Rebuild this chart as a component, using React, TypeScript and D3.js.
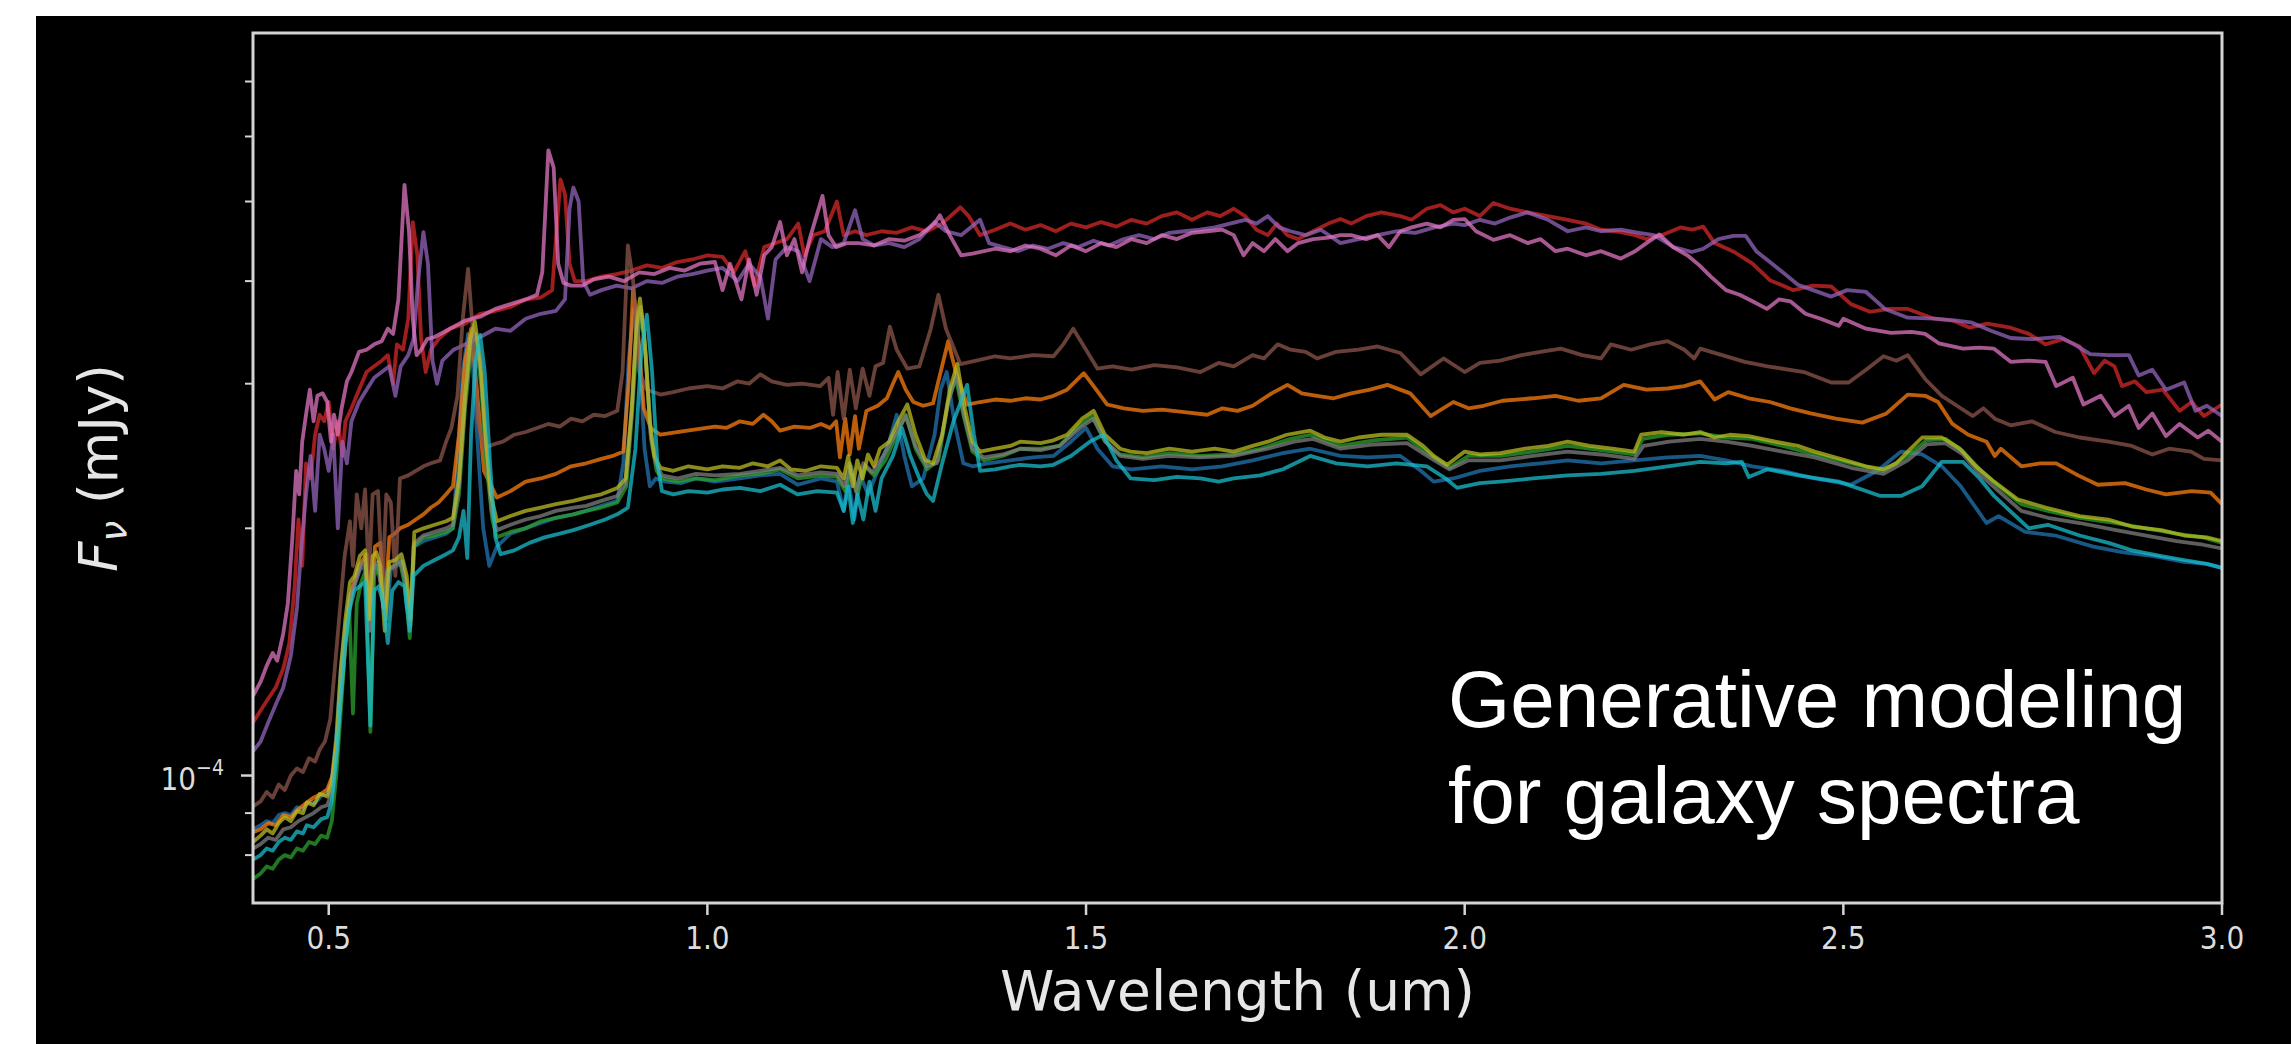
import React from 'react';
import * as d3 from 'd3';

// wavelength (um), flux in units of 1e-4 mJy
const blueSpec = [
  [0.400, 0.86], [0.410, 0.87], [0.418, 0.88], [0.426, 0.875], [0.434, 0.895], [0.442, 0.9], [0.450, 0.895], [0.458, 0.915], [0.466, 0.91], [0.474, 0.93], [0.482, 0.925], [0.490, 0.945], [0.498, 0.95], [0.504, 0.99], [0.510, 1.12], [0.516, 1.35], [0.522, 1.52], [0.528, 1.65], [0.534, 1.7], [0.541, 1.78], [0.548, 1.8], [0.553, 1.5], [0.558, 1.78], [0.564, 1.8], [0.570, 1.7], [0.576, 1.55], [0.582, 1.78], [0.590, 1.8], [0.598, 1.82], [0.603, 1.6], [0.608, 1.58], [0.613, 1.9], [0.625, 1.93], [0.640, 1.95], [0.655, 1.97], [0.664, 2.0], [0.670, 2.4], [0.677, 3.1], [0.684, 3.45], [0.690, 3.2], [0.697, 2.5], [0.704, 2.0], [0.712, 1.8], [0.722, 1.9], [0.740, 1.97], [0.760, 2.0], [0.780, 2.03], [0.800, 2.06], [0.823, 2.08], [0.840, 2.1], [0.860, 2.13], [0.881, 2.16], [0.889, 2.4], [0.896, 3.2], [0.903, 3.7], [0.910, 3.3], [0.917, 2.5], [0.924, 2.25], [0.932, 2.3], [0.945, 2.28], [0.965, 2.27], [0.985, 2.3], [1.010, 2.28], [1.043, 2.3], [1.070, 2.32], [1.096, 2.33], [1.119, 2.26], [1.150, 2.3], [1.171, 2.28], [1.180, 2.1], [1.186, 2.3], [1.194, 2.05], [1.202, 2.32], [1.212, 2.2], [1.225, 2.35], [1.240, 2.55], [1.250, 2.75], [1.260, 2.45], [1.270, 2.25], [1.285, 2.3], [1.300, 2.6], [1.308, 2.95], [1.316, 3.10], [1.326, 2.7], [1.338, 2.4], [1.350, 2.38], [1.370, 2.4], [1.400, 2.42], [1.430, 2.44], [1.457, 2.45], [1.480, 2.55], [1.500, 2.65], [1.515, 2.5], [1.535, 2.38], [1.560, 2.36], [1.600, 2.38], [1.640, 2.36], [1.680, 2.38], [1.720, 2.42], [1.760, 2.47], [1.796, 2.5], [1.836, 2.45], [1.872, 2.44], [1.915, 2.45], [1.942, 2.35], [1.959, 2.28], [1.985, 2.3], [2.020, 2.35], [2.060, 2.38], [2.100, 2.4], [2.136, 2.42], [2.180, 2.4], [2.224, 2.42], [2.268, 2.44], [2.311, 2.45], [2.345, 2.42], [2.380, 2.38], [2.420, 2.35], [2.462, 2.3], [2.510, 2.26], [2.545, 2.35], [2.576, 2.48], [2.604, 2.46], [2.630, 2.38], [2.655, 2.25], [2.689, 2.03], [2.705, 2.07], [2.740, 1.98], [2.780, 1.96], [2.830, 1.9], [2.870, 1.87], [2.910, 1.85], [2.950, 1.82], [2.980, 1.81], [3.000, 1.79],
];

const orangeSpec = [
  [0.400, 0.853], [0.410, 0.86], [0.420, 0.875], [0.430, 0.87], [0.440, 0.895], [0.450, 0.89], [0.460, 0.91], [0.471, 0.927], [0.480, 0.94], [0.490, 0.95], [0.498, 0.962], [0.505, 1.0], [0.511, 1.106], [0.518, 1.3], [0.524, 1.52], [0.532, 1.7], [0.540, 1.8], [0.550, 1.86], [0.556, 1.55], [0.561, 1.9], [0.568, 1.92], [0.574, 1.6], [0.580, 1.95], [0.587, 1.97], [0.594, 2.0], [0.605, 2.02], [0.615, 2.05], [0.625, 2.08], [0.635, 2.12], [0.645, 2.15], [0.655, 2.2], [0.664, 2.25], [0.672, 2.6], [0.680, 3.2], [0.688, 3.5], [0.695, 3.0], [0.705, 2.35], [0.722, 2.18], [0.740, 2.22], [0.760, 2.28], [0.780, 2.3], [0.800, 2.33], [0.820, 2.38], [0.840, 2.4], [0.860, 2.43], [0.875, 2.45], [0.889, 2.48], [0.896, 3.0], [0.902, 3.92], [0.908, 3.5], [0.916, 2.8], [0.925, 2.65], [0.938, 2.60], [0.960, 2.62], [0.985, 2.64], [1.010, 2.66], [1.025, 2.65], [1.043, 2.7], [1.060, 2.68], [1.074, 2.75], [1.085, 2.7], [1.096, 2.63], [1.115, 2.66], [1.135, 2.65], [1.150, 2.68], [1.162, 2.65], [1.170, 2.7], [1.175, 2.44], [1.182, 2.72], [1.188, 2.46], [1.195, 2.74], [1.200, 2.5], [1.210, 2.78], [1.225, 2.82], [1.237, 2.88], [1.245, 3.0], [1.252, 3.10], [1.262, 2.95], [1.272, 2.85], [1.285, 2.82], [1.298, 2.84], [1.308, 3.1], [1.318, 3.38], [1.328, 3.1], [1.343, 2.83], [1.360, 2.85], [1.380, 2.87], [1.400, 2.86], [1.420, 2.88], [1.440, 2.87], [1.457, 2.9], [1.475, 2.95], [1.497, 3.09], [1.510, 2.98], [1.528, 2.83], [1.550, 2.8], [1.575, 2.78], [1.600, 2.79], [1.630, 2.77], [1.660, 2.75], [1.680, 2.8], [1.700, 2.78], [1.720, 2.82], [1.745, 2.92], [1.766, 2.99], [1.785, 2.92], [1.805, 2.9], [1.827, 2.88], [1.850, 2.92], [1.875, 2.95], [1.898, 2.99], [1.928, 2.92], [1.955, 2.74], [1.985, 2.85], [2.005, 2.8], [2.025, 2.82], [2.050, 2.86], [2.090, 2.88], [2.120, 2.9], [2.150, 2.86], [2.180, 2.88], [2.210, 2.99], [2.240, 2.95], [2.268, 2.96], [2.290, 2.98], [2.311, 3.02], [2.330, 2.87], [2.348, 2.93], [2.375, 2.88], [2.403, 2.85], [2.430, 2.8], [2.457, 2.76], [2.490, 2.72], [2.525, 2.69], [2.557, 2.76], [2.585, 2.91], [2.608, 2.9], [2.625, 2.85], [2.644, 2.68], [2.665, 2.6], [2.689, 2.55], [2.700, 2.45], [2.708, 2.5], [2.735, 2.38], [2.760, 2.4], [2.781, 2.4], [2.810, 2.32], [2.836, 2.26], [2.872, 2.27], [2.900, 2.23], [2.926, 2.20], [2.960, 2.22], [2.985, 2.21], [3.000, 2.14],
];

const greenSpec = [
  [0.400, 0.748], [0.410, 0.76], [0.418, 0.775], [0.426, 0.77], [0.434, 0.79], [0.442, 0.8], [0.450, 0.795], [0.458, 0.815], [0.466, 0.81], [0.474, 0.83], [0.482, 0.825], [0.490, 0.845], [0.498, 0.84], [0.504, 0.88], [0.510, 1.0], [0.516, 1.2], [0.522, 1.45], [0.527, 1.6], [0.532, 1.19], [0.537, 1.62], [0.543, 1.72], [0.549, 1.78], [0.555, 1.13], [0.560, 1.75], [0.566, 1.8], [0.572, 1.65], [0.578, 1.78], [0.586, 1.8], [0.594, 1.82], [0.601, 1.7], [0.607, 1.47], [0.612, 1.9], [0.625, 1.95], [0.640, 1.96], [0.655, 1.98], [0.664, 2.0], [0.672, 2.2], [0.680, 2.8], [0.688, 3.3], [0.694, 3.4], [0.701, 3.0], [0.708, 2.4], [0.716, 2.05], [0.722, 1.95], [0.740, 1.98], [0.760, 2.0], [0.780, 2.04], [0.800, 2.06], [0.823, 2.08], [0.840, 2.1], [0.860, 2.12], [0.881, 2.15], [0.893, 2.25], [0.901, 2.8], [0.907, 3.4], [0.913, 3.65], [0.919, 3.2], [0.926, 2.55], [0.933, 2.35], [0.940, 2.3], [0.960, 2.28], [0.985, 2.3], [1.010, 2.29], [1.043, 2.32], [1.070, 2.33], [1.096, 2.36], [1.120, 2.3], [1.150, 2.32], [1.171, 2.31], [1.182, 2.22], [1.190, 2.38], [1.198, 2.2], [1.208, 2.38], [1.220, 2.32], [1.235, 2.42], [1.250, 2.6], [1.262, 2.75], [1.275, 2.5], [1.290, 2.36], [1.305, 2.42], [1.318, 2.85], [1.328, 3.05], [1.338, 2.75], [1.350, 2.48], [1.365, 2.42], [1.390, 2.45], [1.413, 2.5], [1.440, 2.5], [1.465, 2.52], [1.490, 2.66], [1.508, 2.74], [1.525, 2.55], [1.545, 2.46], [1.575, 2.44], [1.610, 2.47], [1.650, 2.45], [1.695, 2.46], [1.730, 2.5], [1.770, 2.57], [1.796, 2.6], [1.836, 2.52], [1.880, 2.56], [1.924, 2.58], [1.959, 2.44], [1.980, 2.37], [2.005, 2.45], [2.047, 2.45], [2.090, 2.48], [2.136, 2.52], [2.180, 2.49], [2.224, 2.46], [2.235, 2.57], [2.270, 2.6], [2.311, 2.61], [2.345, 2.58], [2.380, 2.57], [2.420, 2.52], [2.462, 2.46], [2.510, 2.4], [2.553, 2.35], [2.585, 2.45], [2.610, 2.56], [2.635, 2.57], [2.658, 2.48], [2.680, 2.36], [2.705, 2.25], [2.735, 2.14], [2.770, 2.1], [2.812, 2.06], [2.860, 2.03], [2.900, 2.0], [2.940, 1.97], [2.975, 1.95], [3.000, 1.92],
];

const redSpec = [
  [0.400, 1.16], [0.410, 1.2], [0.420, 1.24], [0.430, 1.28], [0.440, 1.35], [0.448, 1.45], [0.455, 1.7], [0.460, 2.05], [0.465, 1.8], [0.470, 2.4], [0.476, 2.3], [0.482, 2.6], [0.488, 2.75], [0.494, 2.7], [0.500, 2.85], [0.506, 2.5], [0.512, 2.7], [0.518, 2.45], [0.522, 2.7], [0.530, 2.8], [0.540, 2.95], [0.550, 3.1], [0.560, 3.15], [0.570, 3.2], [0.578, 3.25], [0.585, 3.0], [0.590, 3.35], [0.598, 3.3], [0.605, 3.6], [0.611, 4.72], [0.617, 4.3], [0.622, 3.4], [0.628, 3.1], [0.635, 3.3], [0.645, 3.4], [0.660, 3.5], [0.680, 3.55], [0.700, 3.65], [0.720, 3.68], [0.740, 3.72], [0.760, 3.8], [0.780, 3.82], [0.795, 3.9], [0.800, 4.5], [0.806, 5.32], [0.812, 5.1], [0.818, 4.2], [0.825, 4.0], [0.840, 4.0], [0.860, 4.05], [0.880, 4.08], [0.900, 4.12], [0.920, 4.18], [0.940, 4.15], [0.960, 4.22], [0.980, 4.25], [1.000, 4.3], [1.020, 4.28], [1.035, 4.1], [1.050, 4.35], [1.062, 3.95], [1.075, 4.4], [1.090, 4.45], [1.105, 4.5], [1.120, 4.7], [1.128, 4.3], [1.140, 4.55], [1.155, 4.6], [1.171, 5.0], [1.180, 4.55], [1.195, 4.6], [1.210, 4.55], [1.230, 4.6], [1.250, 4.58], [1.270, 4.65], [1.290, 4.6], [1.310, 4.7], [1.334, 4.92], [1.345, 4.8], [1.360, 4.55], [1.380, 4.62], [1.400, 4.7], [1.420, 4.62], [1.440, 4.68], [1.460, 4.6], [1.480, 4.7], [1.500, 4.65], [1.520, 4.72], [1.540, 4.66], [1.560, 4.75], [1.580, 4.7], [1.600, 4.8], [1.620, 4.85], [1.640, 4.75], [1.660, 4.85], [1.677, 4.8], [1.695, 4.9], [1.710, 4.8], [1.725, 4.62], [1.740, 4.55], [1.752, 4.7], [1.766, 4.55], [1.780, 4.5], [1.800, 4.6], [1.820, 4.7], [1.836, 4.76], [1.850, 4.7], [1.870, 4.8], [1.890, 4.85], [1.915, 4.8], [1.930, 4.75], [1.950, 4.9], [1.968, 4.95], [1.985, 4.85], [2.000, 4.9], [2.020, 4.8], [2.038, 4.98], [2.060, 4.9], [2.083, 4.85], [2.110, 4.8], [2.136, 4.75], [2.160, 4.7], [2.180, 4.62], [2.206, 4.59], [2.225, 4.55], [2.240, 4.5], [2.260, 4.55], [2.285, 4.65], [2.300, 4.62], [2.315, 4.66], [2.330, 4.45], [2.356, 4.34], [2.380, 4.2], [2.403, 4.01], [2.420, 3.95], [2.434, 3.9], [2.460, 3.95], [2.484, 3.94], [2.510, 3.75], [2.535, 3.67], [2.560, 3.7], [2.585, 3.7], [2.620, 3.6], [2.645, 3.58], [2.667, 3.51], [2.690, 3.55], [2.721, 3.51], [2.745, 3.45], [2.767, 3.35], [2.790, 3.4], [2.812, 3.33], [2.831, 3.09], [2.845, 3.2], [2.858, 3.15], [2.868, 2.98], [2.885, 3.02], [2.900, 2.93], [2.922, 2.95], [2.944, 2.78], [2.960, 2.85], [2.976, 2.74], [3.000, 2.83],
];

const purpleSpec = [
  [0.400, 1.07], [0.410, 1.1], [0.420, 1.16], [0.430, 1.22], [0.440, 1.28], [0.450, 1.4], [0.458, 1.6], [0.464, 1.9], [0.470, 2.2], [0.476, 2.45], [0.482, 2.1], [0.488, 2.6], [0.494, 2.5], [0.500, 2.35], [0.506, 2.6], [0.512, 2.0], [0.518, 2.55], [0.524, 2.4], [0.530, 2.7], [0.540, 2.85], [0.550, 2.95], [0.560, 3.05], [0.570, 3.1], [0.580, 3.15], [0.588, 2.9], [0.595, 3.15], [0.605, 3.25], [0.612, 3.4], [0.618, 4.0], [0.625, 4.59], [0.631, 4.2], [0.637, 3.2], [0.643, 3.0], [0.650, 3.2], [0.665, 3.3], [0.680, 3.35], [0.700, 3.42], [0.720, 3.5], [0.740, 3.48], [0.760, 3.6], [0.780, 3.65], [0.800, 3.68], [0.812, 3.8], [0.818, 4.9], [0.823, 5.2], [0.830, 5.0], [0.836, 4.0], [0.845, 3.85], [0.860, 3.9], [0.880, 3.95], [0.900, 3.92], [0.920, 4.0], [0.940, 3.98], [0.960, 4.05], [0.980, 4.08], [1.000, 4.12], [1.020, 4.15], [1.040, 4.0], [1.055, 4.2], [1.070, 4.05], [1.080, 3.6], [1.090, 4.25], [1.105, 4.4], [1.120, 4.35], [1.135, 4.0], [1.150, 4.5], [1.165, 4.4], [1.180, 4.45], [1.195, 4.88], [1.205, 4.5], [1.220, 4.42], [1.240, 4.45], [1.260, 4.4], [1.280, 4.5], [1.300, 4.72], [1.315, 4.6], [1.335, 4.55], [1.360, 4.75], [1.372, 4.45], [1.390, 4.4], [1.410, 4.35], [1.430, 4.42], [1.450, 4.38], [1.470, 4.45], [1.490, 4.4], [1.510, 4.48], [1.530, 4.42], [1.550, 4.5], [1.570, 4.55], [1.590, 4.5], [1.610, 4.58], [1.630, 4.6], [1.650, 4.62], [1.670, 4.65], [1.690, 4.7], [1.710, 4.75], [1.725, 4.7], [1.740, 4.8], [1.755, 4.65], [1.770, 4.6], [1.790, 4.55], [1.810, 4.62], [1.836, 4.45], [1.860, 4.5], [1.885, 4.55], [1.910, 4.6], [1.935, 4.58], [1.960, 4.65], [1.985, 4.7], [2.000, 4.68], [2.020, 4.75], [2.040, 4.7], [2.060, 4.78], [2.083, 4.85], [2.110, 4.75], [2.136, 4.6], [2.160, 4.65], [2.180, 4.6], [2.206, 4.62], [2.230, 4.58], [2.250, 4.55], [2.276, 4.4], [2.300, 4.34], [2.315, 4.38], [2.335, 4.5], [2.355, 4.54], [2.371, 4.54], [2.385, 4.35], [2.403, 4.22], [2.420, 4.1], [2.440, 3.96], [2.460, 3.9], [2.484, 3.83], [2.505, 3.9], [2.530, 3.88], [2.555, 3.7], [2.585, 3.61], [2.620, 3.6], [2.650, 3.58], [2.670, 3.56], [2.695, 3.48], [2.721, 3.41], [2.750, 3.4], [2.786, 3.42], [2.805, 3.35], [2.826, 3.26], [2.850, 3.25], [2.877, 3.25], [2.890, 3.07], [2.908, 3.12], [2.926, 2.95], [2.950, 3.01], [2.965, 2.78], [2.980, 2.82], [3.000, 2.74],
];

const brownSpec = [
  [0.400, 0.917], [0.410, 0.93], [0.418, 0.955], [0.426, 0.94], [0.434, 0.975], [0.442, 0.96], [0.450, 1.0], [0.458, 1.02], [0.466, 1.01], [0.474, 1.05], [0.482, 1.04], [0.488, 1.075], [0.495, 1.1], [0.502, 1.17], [0.508, 1.35], [0.515, 1.6], [0.521, 1.85], [0.528, 2.04], [0.532, 1.8], [0.537, 2.2], [0.543, 2.0], [0.548, 2.23], [0.553, 1.75], [0.558, 2.2], [0.565, 2.22], [0.571, 1.7], [0.576, 2.2], [0.582, 2.15], [0.588, 1.75], [0.594, 2.3], [0.605, 2.32], [0.615, 2.35], [0.625, 2.38], [0.635, 2.4], [0.647, 2.42], [0.655, 2.55], [0.662, 2.65], [0.670, 2.9], [0.677, 3.6], [0.684, 4.14], [0.690, 3.5], [0.697, 2.7], [0.705, 2.5], [0.717, 2.53], [0.730, 2.55], [0.745, 2.6], [0.760, 2.62], [0.775, 2.65], [0.790, 2.68], [0.805, 2.66], [0.820, 2.72], [0.835, 2.7], [0.850, 2.75], [0.865, 2.74], [0.881, 2.78], [0.888, 3.1], [0.895, 4.42], [0.902, 4.0], [0.910, 3.1], [0.920, 2.95], [0.938, 2.91], [0.955, 2.93], [0.975, 2.96], [1.000, 2.98], [1.020, 2.96], [1.040, 3.02], [1.055, 3.0], [1.070, 3.08], [1.085, 3.02], [1.105, 2.99], [1.125, 3.0], [1.149, 2.98], [1.160, 3.05], [1.166, 2.75], [1.172, 3.1], [1.180, 2.72], [1.188, 3.12], [1.196, 2.8], [1.205, 3.13], [1.214, 2.9], [1.222, 3.15], [1.232, 3.18], [1.241, 3.52], [1.250, 3.3], [1.264, 3.13], [1.280, 3.15], [1.295, 3.5], [1.305, 3.85], [1.315, 3.5], [1.334, 3.17], [1.355, 3.2], [1.380, 3.24], [1.400, 3.22], [1.430, 3.25], [1.457, 3.24], [1.470, 3.35], [1.483, 3.5], [1.500, 3.3], [1.515, 3.13], [1.535, 3.15], [1.560, 3.12], [1.590, 3.16], [1.620, 3.14], [1.651, 3.1], [1.675, 3.18], [1.695, 3.15], [1.720, 3.25], [1.735, 3.22], [1.753, 3.35], [1.770, 3.3], [1.790, 3.28], [1.805, 3.22], [1.830, 3.28], [1.860, 3.3], [1.885, 3.33], [1.915, 3.27], [1.942, 3.08], [1.972, 3.22], [2.000, 3.10], [2.020, 3.18], [2.047, 3.2], [2.075, 3.25], [2.100, 3.28], [2.127, 3.31], [2.155, 3.25], [2.180, 3.22], [2.193, 3.35], [2.220, 3.3], [2.245, 3.35], [2.268, 3.38], [2.290, 3.3], [2.303, 3.22], [2.311, 3.31], [2.340, 3.25], [2.370, 3.19], [2.400, 3.15], [2.448, 3.1], [2.484, 3.01], [2.507, 3.01], [2.530, 3.12], [2.553, 3.24], [2.570, 3.2], [2.585, 3.25], [2.608, 3.04], [2.630, 2.9], [2.650, 2.82], [2.671, 2.74], [2.685, 2.8], [2.700, 2.72], [2.721, 2.67], [2.749, 2.7], [2.780, 2.62], [2.812, 2.58], [2.850, 2.55], [2.881, 2.52], [2.908, 2.46], [2.930, 2.5], [2.959, 2.48], [2.976, 2.43], [3.000, 2.42],
];

const pinkSpec = [
  [0.400, 1.25], [0.410, 1.30], [0.418, 1.36], [0.426, 1.41], [0.432, 1.38], [0.440, 1.49], [0.446, 1.62], [0.452, 1.95], [0.457, 2.35], [0.461, 2.2], [0.465, 2.55], [0.470, 2.75], [0.475, 2.95], [0.480, 2.7], [0.485, 2.9], [0.492, 2.92], [0.498, 2.85], [0.503, 2.55], [0.507, 2.75], [0.512, 2.6], [0.517, 2.8], [0.524, 3.02], [0.530, 3.1], [0.540, 3.28], [0.550, 3.3], [0.560, 3.35], [0.570, 3.38], [0.578, 3.5], [0.585, 3.45], [0.592, 3.8], [0.600, 5.24], [0.606, 4.6], [0.611, 3.6], [0.616, 3.25], [0.622, 3.3], [0.630, 3.4], [0.640, 3.42], [0.660, 3.5], [0.680, 3.58], [0.700, 3.62], [0.720, 3.7], [0.740, 3.75], [0.760, 3.8], [0.775, 3.85], [0.782, 4.1], [0.790, 5.77], [0.797, 5.5], [0.803, 4.2], [0.810, 3.98], [0.820, 3.95], [0.835, 3.95], [0.850, 4.02], [0.870, 4.05], [0.890, 4.0], [0.910, 4.1], [0.930, 4.08], [0.950, 4.15], [0.970, 4.12], [0.990, 4.2], [1.010, 4.22], [1.020, 3.9], [1.030, 4.2], [1.045, 3.8], [1.055, 4.25], [1.065, 3.85], [1.075, 4.3], [1.085, 4.4], [1.096, 4.72], [1.105, 4.3], [1.115, 4.5], [1.125, 4.1], [1.135, 4.5], [1.152, 5.08], [1.160, 4.55], [1.170, 4.4], [1.185, 4.45], [1.200, 4.45], [1.220, 4.42], [1.240, 4.5], [1.260, 4.48], [1.280, 4.55], [1.300, 4.7], [1.307, 4.81], [1.320, 4.55], [1.335, 4.3], [1.350, 4.32], [1.380, 4.38], [1.400, 4.35], [1.420, 4.42], [1.440, 4.38], [1.460, 4.3], [1.480, 4.42], [1.500, 4.35], [1.520, 4.45], [1.540, 4.4], [1.560, 4.5], [1.580, 4.45], [1.600, 4.55], [1.620, 4.5], [1.640, 4.58], [1.660, 4.6], [1.680, 4.62], [1.695, 4.55], [1.708, 4.3], [1.720, 4.45], [1.735, 4.35], [1.750, 4.5], [1.766, 4.35], [1.780, 4.45], [1.800, 4.5], [1.820, 4.52], [1.836, 4.55], [1.850, 4.55], [1.870, 4.5], [1.885, 4.55], [1.900, 4.4], [1.915, 4.6], [1.930, 4.65], [1.950, 4.7], [1.968, 4.65], [1.985, 4.75], [2.000, 4.76], [2.015, 4.6], [2.038, 4.49], [2.060, 4.55], [2.083, 4.45], [2.100, 4.5], [2.120, 4.35], [2.136, 4.38], [2.160, 4.3], [2.180, 4.35], [2.206, 4.26], [2.225, 4.35], [2.240, 4.45], [2.257, 4.56], [2.275, 4.4], [2.294, 4.3], [2.310, 4.18], [2.325, 4.05], [2.345, 3.9], [2.363, 3.85], [2.380, 3.78], [2.399, 3.7], [2.415, 3.8], [2.430, 3.78], [2.450, 3.65], [2.470, 3.6], [2.494, 3.53], [2.500, 3.6], [2.530, 3.5], [2.563, 3.46], [2.590, 3.47], [2.608, 3.45], [2.626, 3.36], [2.658, 3.31], [2.680, 3.32], [2.699, 3.31], [2.721, 3.19], [2.745, 3.2], [2.767, 3.19], [2.781, 2.98], [2.803, 3.05], [2.817, 2.83], [2.840, 2.9], [2.858, 2.74], [2.877, 2.82], [2.890, 2.65], [2.908, 2.76], [2.926, 2.59], [2.944, 2.68], [2.968, 2.58], [2.982, 2.63], [3.000, 2.55],
];

const graySpec = [
  [0.400, 0.815], [0.410, 0.825], [0.420, 0.84], [0.430, 0.835], [0.440, 0.86], [0.450, 0.865], [0.460, 0.88], [0.470, 0.89], [0.480, 0.9], [0.490, 0.915], [0.498, 0.92], [0.505, 0.96], [0.511, 1.08], [0.517, 1.3], [0.523, 1.5], [0.529, 1.66], [0.535, 1.72], [0.542, 1.8], [0.548, 1.83], [0.554, 1.5], [0.559, 1.8], [0.565, 1.82], [0.572, 1.6], [0.578, 1.78], [0.586, 1.8], [0.594, 1.83], [0.602, 1.72], [0.608, 1.52], [0.613, 1.92], [0.625, 1.96], [0.640, 1.98], [0.655, 2.0], [0.664, 2.02], [0.672, 2.25], [0.680, 2.85], [0.687, 3.35], [0.694, 3.45], [0.701, 3.1], [0.708, 2.5], [0.715, 2.1], [0.722, 1.99], [0.740, 2.02], [0.760, 2.05], [0.780, 2.07], [0.800, 2.1], [0.823, 2.12], [0.840, 2.13], [0.860, 2.16], [0.881, 2.19], [0.892, 2.27], [0.900, 2.75], [0.906, 3.45], [0.912, 3.72], [0.918, 3.3], [0.925, 2.6], [0.932, 2.4], [0.940, 2.32], [0.960, 2.3], [0.985, 2.33], [1.010, 2.32], [1.043, 2.33], [1.070, 2.35], [1.096, 2.37], [1.120, 2.32], [1.150, 2.34], [1.171, 2.33], [1.181, 2.25], [1.188, 2.4], [1.196, 2.22], [1.206, 2.4], [1.218, 2.34], [1.232, 2.45], [1.248, 2.6], [1.262, 2.74], [1.275, 2.52], [1.290, 2.38], [1.303, 2.4], [1.318, 2.85], [1.329, 3.08], [1.339, 2.75], [1.350, 2.5], [1.365, 2.44], [1.390, 2.46], [1.413, 2.5], [1.440, 2.49], [1.465, 2.52], [1.492, 2.65], [1.510, 2.72], [1.526, 2.55], [1.545, 2.45], [1.575, 2.43], [1.610, 2.45], [1.650, 2.44], [1.695, 2.45], [1.740, 2.5], [1.775, 2.55], [1.800, 2.57], [1.836, 2.5], [1.880, 2.53], [1.924, 2.54], [1.960, 2.42], [1.980, 2.36], [2.005, 2.42], [2.047, 2.42], [2.090, 2.45], [2.136, 2.48], [2.180, 2.46], [2.224, 2.43], [2.236, 2.52], [2.270, 2.55], [2.311, 2.57], [2.345, 2.55], [2.380, 2.52], [2.420, 2.48], [2.462, 2.44], [2.510, 2.37], [2.553, 2.33], [2.585, 2.42], [2.610, 2.53], [2.635, 2.54], [2.658, 2.46], [2.680, 2.33], [2.705, 2.22], [2.735, 2.1], [2.770, 2.06], [2.812, 2.03], [2.860, 1.99], [2.900, 1.96], [2.940, 1.93], [2.975, 1.91], [3.000, 1.89],
];

const oliveSpec = [
  [0.400, 0.83], [0.410, 0.845], [0.418, 0.86], [0.426, 0.85], [0.434, 0.875], [0.442, 0.89], [0.450, 0.88], [0.458, 0.905], [0.466, 0.9], [0.471, 0.927], [0.480, 0.92], [0.488, 0.95], [0.498, 0.943], [0.504, 0.98], [0.510, 1.1], [0.516, 1.35], [0.522, 1.55], [0.528, 1.72], [0.534, 1.75], [0.541, 1.85], [0.548, 1.88], [0.553, 1.55], [0.558, 1.85], [0.563, 1.87], [0.568, 1.8], [0.574, 1.5], [0.580, 1.82], [0.588, 1.83], [0.596, 1.86], [0.603, 1.75], [0.608, 1.55], [0.613, 1.98], [0.625, 2.0], [0.640, 2.02], [0.655, 2.04], [0.664, 2.06], [0.672, 2.3], [0.680, 2.9], [0.687, 3.4], [0.693, 3.57], [0.700, 3.2], [0.707, 2.6], [0.714, 2.2], [0.722, 2.04], [0.740, 2.07], [0.760, 2.1], [0.780, 2.12], [0.800, 2.14], [0.823, 2.16], [0.840, 2.18], [0.860, 2.2], [0.881, 2.24], [0.892, 2.3], [0.900, 2.8], [0.906, 3.5], [0.911, 3.81], [0.917, 3.4], [0.924, 2.7], [0.930, 2.45], [0.938, 2.37], [0.955, 2.35], [0.975, 2.38], [1.000, 2.36], [1.020, 2.38], [1.043, 2.37], [1.060, 2.4], [1.080, 2.38], [1.096, 2.42], [1.110, 2.36], [1.130, 2.35], [1.150, 2.38], [1.171, 2.37], [1.180, 2.3], [1.186, 2.45], [1.192, 2.25], [1.198, 2.42], [1.205, 2.3], [1.212, 2.46], [1.220, 2.38], [1.228, 2.5], [1.240, 2.55], [1.252, 2.7], [1.264, 2.83], [1.275, 2.6], [1.288, 2.42], [1.298, 2.4], [1.310, 2.6], [1.320, 2.95], [1.330, 3.17], [1.340, 2.8], [1.350, 2.55], [1.360, 2.48], [1.380, 2.5], [1.400, 2.52], [1.413, 2.55], [1.440, 2.54], [1.457, 2.56], [1.475, 2.6], [1.495, 2.72], [1.510, 2.78], [1.525, 2.6], [1.545, 2.5], [1.559, 2.48], [1.580, 2.47], [1.610, 2.5], [1.640, 2.48], [1.670, 2.5], [1.695, 2.48], [1.720, 2.52], [1.740, 2.55], [1.765, 2.6], [1.796, 2.63], [1.815, 2.58], [1.836, 2.55], [1.860, 2.58], [1.890, 2.6], [1.924, 2.60], [1.945, 2.52], [1.959, 2.45], [1.977, 2.39], [2.000, 2.48], [2.020, 2.46], [2.047, 2.47], [2.080, 2.5], [2.110, 2.52], [2.136, 2.55], [2.165, 2.52], [2.195, 2.5], [2.224, 2.48], [2.233, 2.6], [2.260, 2.62], [2.290, 2.6], [2.311, 2.62], [2.330, 2.58], [2.350, 2.6], [2.375, 2.59], [2.410, 2.55], [2.440, 2.52], [2.462, 2.48], [2.503, 2.42], [2.530, 2.38], [2.553, 2.36], [2.570, 2.4], [2.585, 2.48], [2.604, 2.58], [2.630, 2.58], [2.654, 2.5], [2.675, 2.38], [2.699, 2.28], [2.730, 2.17], [2.767, 2.12], [2.812, 2.07], [2.850, 2.05], [2.881, 2.01], [2.920, 1.99], [2.950, 1.96], [2.980, 1.95], [3.000, 1.93],
];

const cyanSpec = [
  [0.400, 0.79], [0.410, 0.8], [0.418, 0.815], [0.426, 0.81], [0.434, 0.83], [0.442, 0.84], [0.450, 0.835], [0.458, 0.855], [0.466, 0.85], [0.471, 0.87], [0.480, 0.865], [0.490, 0.885], [0.498, 0.89], [0.504, 0.93], [0.510, 1.05], [0.516, 1.25], [0.522, 1.45], [0.528, 1.6], [0.534, 1.68], [0.541, 1.7], [0.548, 1.72], [0.555, 1.15], [0.560, 1.68], [0.566, 1.7], [0.572, 1.62], [0.578, 1.45], [0.584, 1.68], [0.592, 1.72], [0.600, 1.7], [0.607, 1.5], [0.612, 1.75], [0.625, 1.8], [0.640, 1.83], [0.655, 1.86], [0.664, 1.88], [0.672, 1.95], [0.678, 2.1], [0.683, 1.84], [0.688, 2.6], [0.694, 3.2], [0.700, 3.44], [0.706, 3.1], [0.713, 2.4], [0.720, 1.95], [0.727, 1.86], [0.745, 1.88], [0.765, 1.92], [0.785, 1.95], [0.805, 1.97], [0.823, 1.99], [0.845, 2.02], [0.865, 2.05], [0.881, 2.08], [0.895, 2.12], [0.905, 2.5], [0.913, 3.3], [0.920, 3.64], [0.927, 3.1], [0.934, 2.4], [0.940, 2.22], [0.955, 2.2], [0.975, 2.22], [1.000, 2.21], [1.020, 2.23], [1.043, 2.24], [1.070, 2.22], [1.096, 2.26], [1.119, 2.20], [1.145, 2.22], [1.171, 2.21], [1.180, 2.1], [1.186, 2.25], [1.192, 2.03], [1.198, 2.2], [1.206, 2.05], [1.214, 2.28], [1.222, 2.1], [1.230, 2.3], [1.245, 2.45], [1.257, 2.65], [1.268, 2.45], [1.280, 2.3], [1.290, 2.2], [1.298, 2.16], [1.310, 2.4], [1.325, 2.7], [1.343, 2.99], [1.352, 2.6], [1.360, 2.35], [1.380, 2.36], [1.400, 2.38], [1.413, 2.39], [1.440, 2.38], [1.457, 2.39], [1.480, 2.45], [1.505, 2.55], [1.523, 2.60], [1.540, 2.42], [1.559, 2.30], [1.590, 2.29], [1.620, 2.31], [1.651, 2.30], [1.675, 2.28], [1.695, 2.3], [1.730, 2.32], [1.760, 2.36], [1.796, 2.45], [1.830, 2.4], [1.872, 2.38], [1.910, 2.4], [1.950, 2.38], [1.975, 2.3], [1.990, 2.24], [2.020, 2.27], [2.047, 2.28], [2.090, 2.3], [2.136, 2.32], [2.180, 2.33], [2.224, 2.35], [2.268, 2.38], [2.311, 2.41], [2.345, 2.4], [2.366, 2.41], [2.375, 2.31], [2.400, 2.36], [2.440, 2.32], [2.494, 2.28], [2.549, 2.19], [2.576, 2.19], [2.604, 2.25], [2.630, 2.41], [2.658, 2.41], [2.680, 2.3], [2.699, 2.19], [2.720, 2.1], [2.745, 2.0], [2.770, 2.02], [2.812, 1.96], [2.850, 1.92], [2.881, 1.88], [2.920, 1.85], [2.950, 1.83], [2.980, 1.81], [3.000, 1.79],
];

const xTicks = [0.5, 1.0, 1.5, 2.0, 2.5, 3.0];
const yMinorTicks = [0.8, 0.9, 2, 3, 4, 5, 6, 7];

// matplotlib tab10 order
const series = [
  { color: '#1f77b4', data: blueSpec },
  { color: '#ff7f0e', data: orangeSpec },
  { color: '#2ca02c', data: greenSpec },
  { color: '#d62728', data: redSpec },
  { color: '#9467bd', data: purpleSpec },
  { color: '#8c564b', data: brownSpec },
  { color: '#e377c2', data: pinkSpec },
  { color: '#7f7f7f', data: graySpec },
  { color: '#bcbd22', data: oliveSpec },
  { color: '#17becf', data: cyanSpec },
];

const W = 2291;
const H = 1044;
const plot = { left: 253, right: 2222, top: 33, bottom: 903 };
const axisColor = '#d4d4d4';
const tickFont = "'DejaVu Sans', sans-serif";

export default function App() {
  const x = d3.scaleLinear().domain([0.4, 3.0]).range([plot.left, plot.right]);
  const y = d3.scaleLog().domain([0.6995, 8.02]).range([plot.bottom, plot.top]);

  const line = d3
    .line<number[]>()
    .x(d => x(d[0]))
    .y(d => y(d[1]));

  return (
    <svg
      width={W}
      height={H}
      style={{ position: 'absolute', left: 0, top: 0, display: 'block' }}
    >
      <rect x={0} y={0} width={W} height={H} fill="#ffffff" />
      <rect x={36} y={16} width={W - 36} height={H - 16} fill="#000000" />

      <defs>
        <clipPath id="plotClip">
          <rect x={plot.left} y={plot.top} width={plot.right - plot.left} height={plot.bottom - plot.top} />
        </clipPath>
        {/* the reference is an upscaled screenshot, so soften the lines a bit */}
        <filter id="soft" x="-2%" y="-2%" width="104%" height="104%">
          <feGaussianBlur stdDeviation={0.7} />
        </filter>
      </defs>

      {/* spectra */}
      <g clipPath="url(#plotClip)">
        <g filter="url(#soft)">
          {series.map((s, i) => (
            <path
              key={i}
              d={line(s.data) || ''}
              fill="none"
              stroke={s.color}
              strokeWidth={3.8}
              strokeOpacity={0.74}
              strokeLinejoin="round"
            />
          ))}
        </g>
      </g>

      {/* frame */}
      <rect
        x={plot.left}
        y={plot.top}
        width={plot.right - plot.left}
        height={plot.bottom - plot.top}
        fill="none"
        stroke={axisColor}
        strokeWidth={3}
      />

      {/* x ticks */}
      {xTicks.map(t => (
        <g key={t}>
          <line x1={x(t)} x2={x(t)} y1={plot.bottom} y2={plot.bottom + 12} stroke={axisColor} strokeWidth={2.5} />
          <text
            transform={`translate(${x(t)},949) scale(1,1.15)`}
            textAnchor="middle"
            fontFamily={tickFont}
            fontSize={28}
            fill="#dcdcdc"
          >
            {t.toFixed(1)}
          </text>
        </g>
      ))}

      {/* y ticks (log) */}
      {yMinorTicks.map(t => (
        <line key={t} x1={plot.left - 8} x2={plot.left} y1={y(t)} y2={y(t)} stroke={axisColor} strokeWidth={2} />
      ))}
      <line x1={plot.left - 12} x2={plot.left} y1={y(1)} y2={y(1)} stroke={axisColor} strokeWidth={2.5} />
      <text
        transform={`translate(224,${y(1) + 14}) scale(1,1.15)`}
        textAnchor="end"
        fontFamily={tickFont}
        fontSize={28}
        fill="#dcdcdc"
      >
        10<tspan dy={-13} fontSize={19}>−4</tspan>
      </text>

      {/* axis labels */}
      <text
        x={(plot.left + plot.right) / 2}
        y={1010}
        textAnchor="middle"
        fontFamily={tickFont}
        fontSize={55}
        fill="#e6e6e6"
      >
        Wavelength (um)
      </text>
      <text
        transform={`translate(117,${(plot.top + plot.bottom) / 2}) rotate(-90)`}
        textAnchor="middle"
        fontFamily={tickFont}
        fontSize={53}
        fill="#e6e6e6"
      >
        <tspan fontStyle="italic">F</tspan>
        <tspan fontStyle="italic" fontSize={37} dy={10}>ν</tspan>
        <tspan dy={-10}> (mJy)</tspan>
      </text>

      {/* annotation */}
      <text fontFamily="'Liberation Sans', Arial, Helvetica, sans-serif" fontSize={80} fill="#ffffff">
        <tspan x={1448} y={727}>Generative modeling</tspan>
        <tspan x={1448} y={823}>for galaxy spectra</tspan>
      </text>
    </svg>
  );
}
